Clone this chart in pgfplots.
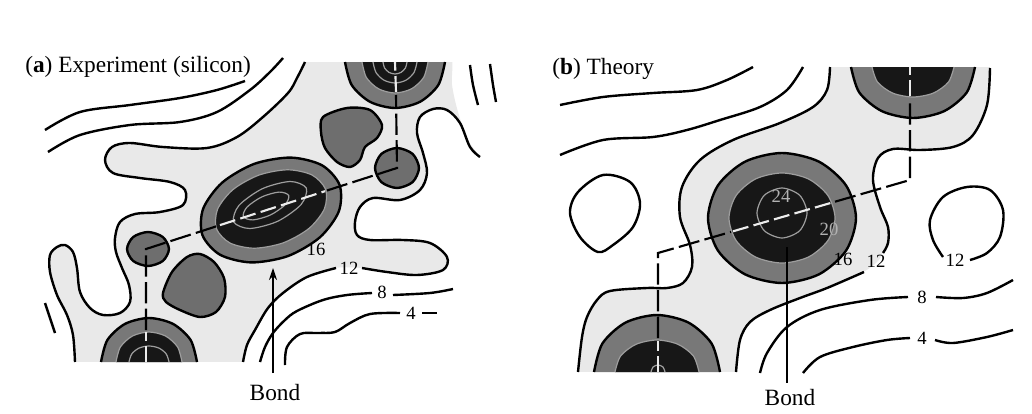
\documentclass[border=0pt]{standalone}
\usepackage{fontspec}
\setmainfont{Liberation Serif}
\usepackage{pgfplots}
\pgfplotsset{compat=1.18}
\usetikzlibrary{arrows.meta}

% density levels (grey scale of the contour map)
\definecolor{stip}{gray}{0.915}
\definecolor{ring}{gray}{0.47}
\definecolor{blob}{gray}{0.43}
\definecolor{core}{gray}{0.09}
\definecolor{coreline}{gray}{0.62}

\newcommand\ttl{\fontsize{17.5}{20}\selectfont}
\newcommand\lbl{\fontsize{14}{16}\selectfont}

\pgfplotsset{
  contour/.style={black, line width=1.8pt, smooth, tension=0.55},
  inner/.style={coreline, line width=0.9pt, smooth},
  bondk/.style={black, line width=1.6pt, dash pattern=on 16pt off 4pt},
  bondw/.style={white!85!gray, line width=1.6pt, dash pattern=on 12pt off 4pt},
  mask/.style={fill=white, draw=none},
}

\begin{document}
\begin{tikzpicture}
\begin{axis}[
  scale only axis, width=774pt, height=310.5pt,
  xmin=0, xmax=1032, ymin=0, ymax=414, y dir=reverse,
  hide axis, clip=false,
]
% page frame
\addplot[draw=none, fill=white] coordinates {(0,0) (1032,0) (1032,414) (0,414)};

% ================= (a) Experiment =================
% region above the 12 level
\addplot[fill=stip, draw=none, smooth, tension=0.55] coordinates {
 (305,62) (297,78) (288,93) (263,117) (237,137) (207,148) (163,147) (130,143)
 (112,147) (105,160) (113,173) (140,178) (170,182) (185,190) (183,205) (160,212)
 (135,214) (120,222) (115,238) (116,252) (122,268) (129,285) (130,302) (120,313)
 (103,315) (90,308) (80,292) (77,268) (73,252) (65,245) (57,247) (50,255) (50,272)
 (57,295) (67,315) (73,335) (76,362) (78,372) (160,372) (243,372) (243,362) (247,345) (255,330)
 (268,308) (283,293) (307,277) (335,268) (362,268) (387,272) (417,275) (443,270)
 (447,257) (430,243) (403,240) (370,240) (357,235) (355,222) (360,207) (373,198)
 (400,200) (420,190) (427,173) (423,153) (417,133) (420,117) (433,109) (447,110)
 (460,123) (470,147) (480,157) (468,140) (458,112) (452,85) (450,55) (420,50) (330,50)};
% trim the shading at the map's edges
\addplot[mask] coordinates {(290,30) (520,30) (520,62) (290,62)};
\addplot[mask] coordinates {(40,362) (300,362) (300,380) (40,380)};

% bonding charge, centre of the bond
\addplot[fill=ring, draw=black, line width=1.8pt, smooth cycle] coordinates {
 (339.6,185.0) (338.8,211.4) (319.8,237.4) (287.8,256.1) (251.2,262.4) (220,254.7)
 (202.4,235) (203.2,208.6) (222.2,182.6) (254.2,163.9) (290.8,157.6) (322,165.3)};
\addplot[fill=core, draw=coreline, line width=0.9pt, smooth cycle] coordinates {
 (325.5,189.2) (324.4,208.8) (309,228.4) (283.3,242.8) (254.4,248.2) (230,243)
 (216.5,228.8) (217.6,209.2) (233,189.6) (258.7,175.2) (287.6,169.8) (312,175)};
\addplot[inner, smooth cycle] coordinates {
 (306.3,188.1) (301.1,204.5) (277.6,221.3) (249.7,228.5) (233.7,221.9)
 (238.9,205.5) (262.4,188.7) (290.3,181.5)};
\addplot[inner, smooth cycle] coordinates {
 (288.7,195.4) (285,204.9) (270.2,215.1) (253,219.9) (243.3,216.6)
 (247,207.1) (261.8,196.9) (279,192.1)};

% side maxima
\addplot[fill=blob, draw=black, line width=1.8pt, smooth cycle] coordinates {
 (169,249) (162.8,237) (148,232) (133.2,237) (127,249) (133.2,261) (148,266) (162.8,261)};
\addplot[fill=blob, draw=black, line width=1.8pt, smooth cycle] coordinates {
 (419,168) (412.6,153.9) (397,148) (381.4,153.9) (375,168) (381.4,182.1) (397,188) (412.6,182.1)};
\addplot[fill=blob, draw=black, line width=1.8pt, smooth cycle] coordinates {
 (323,117) (347,108) (370,110) (382,125) (377,138) (365,147) (360,160)
 (350,167) (337,162) (325,148) (321,132)};
\addplot[fill=blob, draw=black, line width=1.8pt, smooth cycle] coordinates {
 (163,293) (172,272) (187,257) (200,254) (214,262) (224,278) (225,297)
 (216,312) (200,317) (180,310) (166,302)};

% atom at top
\addplot[fill=ring, draw=black, line width=1.8pt, smooth] coordinates {
 (445,62) (438.3,85) (420,101.8) (395,108) (370,101.8) (351.7,85) (345,62)};
\addplot[fill=core, draw=coreline, line width=0.9pt, smooth] coordinates {
 (428,62) (423.6,77.5) (411.5,88.8) (395,93) (378.5,88.8) (366.4,77.5) (362,62)};
\addplot[inner] coordinates {(417,62) (414,72.5) (406,80.2) (395,83) (384,80.2) (376,72.5) (373,62)};
\addplot[inner] coordinates {(407,62) (405.4,68) (401,72.4) (395,74) (389,72.4) (384.6,68) (383,62)};

% atom at bottom
\addplot[fill=ring, draw=black, line width=1.8pt, smooth] coordinates {
 (197,362) (190.6,340) (173,323.9) (149,318) (125,323.9) (107.4,340) (101,362)};
\addplot[fill=core, draw=coreline, line width=0.9pt, smooth] coordinates {
 (182,362) (177.6,347) (165.5,336) (149,332) (132.5,336) (120.4,347) (116,362)};
\addplot[inner] coordinates {(169,362) (166.3,354) (159,348.1) (149,346) (139,348.1) (131.7,354) (129,362)};

% contour lines
\addplot[contour] coordinates {(45,130) (80,112) (130,105) (180,98) (217,90) (245,81)};
\addplot[contour] coordinates {(48,152) (80,135) (130,125) (180,122) (217,112) (250,90) (270,72) (283,58)};
\addplot[contour] coordinates {
 (305,62) (297,78) (288,93) (263,117) (237,137) (207,148) (163,147) (130,143)
 (112,147) (105,160) (113,173) (140,178) (170,182) (185,190) (183,205) (160,212)
 (135,214) (120,222) (115,238) (116,252) (122,268) (129,285) (130,302) (120,313)
 (103,315) (90,308) (80,292) (77,268) (73,252) (65,245) (57,247) (50,255) (50,272)
 (57,295) (67,315) (73,335) (75,362)};
\addplot[contour] coordinates {
 (480,157) (470,147) (460,123) (447,110) (433,109) (420,117) (417,133) (423,153)
 (427,173) (420,190) (400,200) (373,198) (360,207) (355,222) (357,235) (370,240)
 (403,240) (430,243) (447,257) (443,270) (417,275) (387,272) (362,268)};
\addplot[contour] coordinates {(336,268) (307,277) (283,293) (268,308) (255,330) (247,345) (243,362)};
\addplot[contour] coordinates {(260,362) (265,347) (273,333) (285,320) (297,311) (323,300) (347,295) (372,293)};
\addplot[contour] coordinates {(393,295) (430,293) (453,289)};
\addplot[contour] coordinates {(285,365) (287,347) (300,334) (318,333) (335,332) (350,323) (370,314) (400,313)};
\addplot[contour] coordinates {(422,313) (437,313)};
\addplot[contour] coordinates {(470,65) (473,85) (478,105)};
\addplot[contour] coordinates {(490,64) (493,85) (496,102)};
\addplot[contour] coordinates {(45,303) (50,318) (55,333)};

% bond path
\addplot[bondw] coordinates {(146,362) (146,332)};
\addplot[bondk] coordinates {(146,330) (146,249) (218,225.8)};
\addplot[bondw] coordinates {(220,225.1) (325,191.2)};
\addplot[bondk] coordinates {(327,190.5) (397,168) (396,95)};
\addplot[bondw] coordinates {(396,92) (395,62)};

% bond marker
\addplot[black, line width=0.9pt, -{Stealth[length=9pt,width=6pt]}] coordinates {(273,373) (273,268)};

\node[font=\lbl] at (axis cs:316,249) {16};
\node[font=\lbl] at (axis cs:349,268) {12};
\node[font=\lbl] at (axis cs:382,292) {8};
\node[font=\lbl] at (axis cs:411,313) {4};
\node[font=\ttl, anchor=base] at (axis cs:275,400) {Bond};
\node[font=\ttl, anchor=base west, inner sep=0pt] at (axis cs:25,72) {(\textbf{a}) Experiment (silicon)};

% ================= (b) Theory =================
\addplot[fill=stip, draw=none, smooth, tension=0.55] coordinates {
 (830,67) (827,90) (813,107) (780,123) (733,140) (700,160) (682,187) (680,217)
 (690,245) (692,267) (683,283) (667,288) (647,288) (610,291) (597,300) (587,317)
 (582,337) (578,372) (580,382) (657,382) (736,382) (736,372) (740,340) (750,322) (770,310) (800,298)
 (827,288) (863,272) (877,262) (883,253) (888,243) (888,227) (880,207) (873,180)
 (878,158) (893,149) (920,150) (953,147) (973,135) (987,105) (990,68) (992,55) (910,55)};
\addplot[mask] coordinates {(820,40) (1000,40) (1000,67) (820,67)};
\addplot[mask] coordinates {(570,372) (745,372) (745,390) (570,390)};

% bonding charge
\addplot[fill=ring, draw=black, line width=1.8pt, smooth cycle] coordinates {
 (856,218) (846.1,250.5) (819,274.3) (782,283) (745,274.3) (717.9,250.5)
 (708,218) (717.9,185.5) (745,161.7) (782,153) (819,161.7) (846.1,185.5)};
\addplot[fill=core, draw=coreline, line width=0.9pt, smooth cycle] coordinates {
 (835,218) (827.9,240.5) (808.5,257) (782,263) (755.5,257) (736.1,240.5)
 (729,218) (736.1,195.5) (755.5,179) (782,173) (808.5,179) (827.9,195.5)};
\addplot[inner, smooth cycle] coordinates {
 (807,213) (799.7,230.7) (782,238) (764.3,230.7) (757,213) (764.3,195.3) (782,188) (799.7,195.3)};

% atoms
\addplot[fill=ring, draw=black, line width=1.8pt, smooth] coordinates {
 (975,67) (966.7,92.5) (944,111.2) (913,118) (882,111.2) (859.3,92.5) (851,67)};
\addplot[fill=core, draw=coreline, line width=0.9pt, smooth] coordinates {
 (954,67) (948.5,82) (933.5,93) (913,97) (892.5,93) (877.5,82) (872,67)};
\addplot[fill=ring, draw=black, line width=1.8pt, smooth] coordinates {
 (720,372) (711.6,343.5) (688.5,322.6) (657,315) (625.5,322.6) (602.4,343.5) (594,372)};
\addplot[fill=core, draw=coreline, line width=0.9pt, smooth] coordinates {
 (699,372) (693.4,356) (678,344.3) (657,340) (636,344.3) (620.6,356) (615,372)};
\addplot[inner] coordinates {(665,372) (663,367) (658,365) (653,367) (651,372)};

% contour lines
\addplot[contour] coordinates {(560,105) (603,97) (653,93) (697,90) (727,80) (753,67)};
\addplot[contour] coordinates {(560,155) (603,140) (653,137) (687,130) (720,120) (760,107) (787,90) (803,67)};
\addplot[contour] coordinates {
 (830,67) (827,90) (813,107) (780,123) (733,140) (700,160) (682,187) (680,217)
 (690,245) (692,267) (683,283) (667,288) (647,288) (610,291) (597,300) (587,317)
 (582,337) (578,372)};
\addplot[contour] coordinates {
 (990,68) (987,105) (973,135) (953,147) (920,150) (893,149) (878,158) (873,180)
 (880,207) (888,227) (888,243) (883,253)};
\addplot[contour] coordinates {(864,272) (827,288) (800,298) (770,310) (750,322) (740,340) (736,372)};
\addplot[contour, smooth cycle] coordinates {
 (578,192) (603,175) (630,182) (640,203) (633,227) (613,245) (598,252) (580,237) (570,213)};
\addplot[contour] coordinates {
 (943,257) (933,240) (930,220) (943,197) (967,187) (990,190) (1003,210) (1000,237)
 (987,253) (970,260)};
\addplot[contour] coordinates {(760,373) (767,353) (787,327) (820,310) (870,300) (908,297)};
\addplot[contour] coordinates {(936,297) (963,298) (987,293) (1013,280)};
\addplot[contour] coordinates {(803,373) (820,357) (853,347) (887,340) (910,338)};
\addplot[contour] coordinates {(935,340) (953,343) (987,337) (1013,330)};

% bond path
\addplot[bondw] coordinates {(658,372) (658,341)};
\addplot[bondk] coordinates {(658,338) (658,253) (731,231.9)};
\addplot[bondw] coordinates {(733,231.3) (833,202.3)};
\addplot[bondk] coordinates {(835,201.7) (910,180) (910,99)};
\addplot[bondw] coordinates {(910,96) (910,67)};

% bond marker
\addplot[black, line width=0.9pt] coordinates {(787,247) (787,383)};

\node[font=\lbl, text=gray!60] at (axis cs:781,196) {24};
\node[font=\lbl, text=gray!60] at (axis cs:829,229) {20};
\node[font=\lbl] at (axis cs:843,259) {16};
\node[font=\lbl] at (axis cs:876,261) {12};
\node[font=\lbl] at (axis cs:955,260) {12};
\node[font=\lbl] at (axis cs:922,297) {8};
\node[font=\lbl] at (axis cs:922,338) {4};
\node[font=\ttl, anchor=base] at (axis cs:790,405) {Bond};
\node[font=\ttl, anchor=base west, inner sep=0pt] at (axis cs:552,74) {(\textbf{b}) Theory};
\end{axis}
\end{tikzpicture}
\end{document}
